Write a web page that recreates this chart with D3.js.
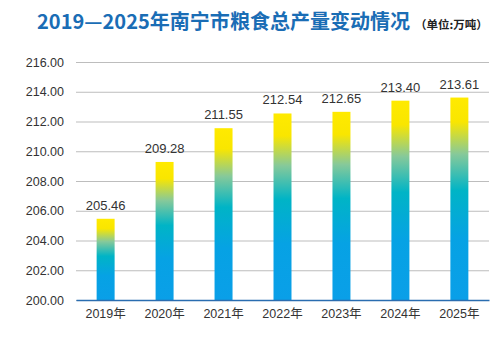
<!DOCTYPE html>
<html>
<head>
<meta charset="utf-8">
<script src="https://cdn.jsdelivr.net/npm/d3@7"></script>
<style>
  body { margin: 0; background: #fff; }
  text { font-family: "Liberation Sans", Arial, sans-serif; }
</style>
</head>
<body>
<div id="chart"></div>
<script>
const years = ["2019年", "2020年", "2021年", "2022年", "2023年", "2024年", "2025年"];
const output = [205.46, 209.28, 211.55, 212.54, 212.65, 213.40, 213.61];
const yTicks = [200, 202, 204, 206, 208, 210, 212, 214, 216];

const WIDTH = 498;
const HEIGHT = 339;

let svg = d3.select("#chart")
    .append("svg")
    .attr("width", WIDTH)
    .attr("height", HEIGHT);

// gradient per bar, yellow on top to blue at the bottom
let grad = svg.append("defs")
    .append("linearGradient")
    .attr("id", "barGrad")
    .attr("x1", 0).attr("y1", 0)
    .attr("x2", 0).attr("y2", 1);
[["0%", "#ffea00"], ["12%", "#f9e600"], ["28%", "#86c99a"], ["46%", "#00b4c6"], ["70%", "#06a2e4"], ["100%", "#0a9fe8"]]
    .forEach(s => grad.append("stop").attr("offset", s[0]).attr("stop-color", s[1]));

// title
let title = svg.append("text")
    .attr("x", 37)
    .attr("y", 29)
    .attr("fill", "#1a6db5")
    .style("font-family", "'Noto Sans CJK SC', sans-serif")
    .style("font-weight", "bold");
title.append("tspan")
    .style("font-size", "20px")
    .attr("textLength", 373)
    .text("2019—2025年南宁市粮食总产量变动情况");
title.append("tspan")
    .attr("dx", 5)
    .attr("fill", "#222")
    .style("font-size", "11.5px")
    .text("（单位:万吨）");

let xScale = d3.scaleBand()
    .domain(years)
    .range([76, 489])
    .paddingInner(0.695)
    .paddingOuter(0.35);

let yScale = d3.scaleLinear()
    .domain([200, 216])
    .range([300, 62]);

// y axis with grid lines
let yAxis = svg.append("g")
    .attr("transform", "translate(76,0)")
    .call(d3.axisLeft(yScale)
        .tickValues(yTicks)
        .tickFormat(d3.format(".2f"))
        .tickSize(-413)
        .tickPadding(12));
yAxis.select(".domain").remove();
yAxis.selectAll(".tick line").attr("stroke", "#bdbdbd");
yAxis.selectAll(".tick text")
    .attr("fill", "#333")
    .style("font-size", "12.5px");

// bars
svg.append("g")
    .selectAll("rect")
    .data(output)
    .enter()
    .append("rect")
    .attr("x", (d, i) => xScale(years[i]))
    .attr("y", d => yScale(d))
    .attr("width", xScale.bandwidth())
    .attr("height", d => yScale(200) - yScale(d))
    .attr("fill", "url(#barGrad)");

// value labels
svg.append("g")
    .selectAll("text")
    .data(output)
    .enter()
    .append("text")
    .attr("x", (d, i) => xScale(years[i]) + xScale.bandwidth() / 2)
    .attr("y", d => yScale(d) - 9)
    .attr("text-anchor", "middle")
    .attr("fill", "#333")
    .style("font-size", "13px")
    .text(d => d.toFixed(2));

// x axis
let xAxis = svg.append("g")
    .attr("transform", "translate(0,300)")
    .call(d3.axisBottom(xScale).tickSize(0).tickPadding(9));
xAxis.select(".domain")
    .attr("stroke", "#2a6db0")
    .attr("stroke-width", 1.6);
xAxis.selectAll(".tick text")
    .attr("fill", "#333")
    .style("font-size", "12.5px")
    .style("font-family", "'Liberation Sans', 'Noto Sans CJK SC', sans-serif");
</script>
</body>
</html>
